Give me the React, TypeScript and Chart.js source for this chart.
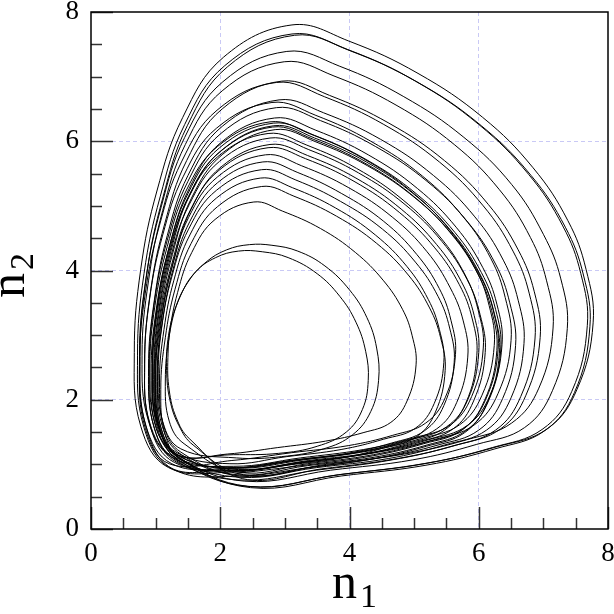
import React, { useEffect, useRef } from 'react';
import { Chart, registerables } from 'chart.js';

Chart.register(...registerables);

// Axis tick labels (major ticks every 2, minor every 0.5)
const xTickLabels = [0, 2, 4, 6, 8];
const yTickLabels = [0, 2, 4, 6, 8];
const minorStep = 0.5;

// Trajectory, traced loop by loop (counter-clockwise)
const loop01 = { n1: [2.26, 3.33, 4.35, 5.15, 5.74, 6.09, 6.28, 6.20, 5.99, 5.58, 4.99, 4.24, 3.44, 2.81, 2.00, 1.51, 1.22, 1.03, 0.95, 1.03, 1.35], n2: [0.86, 0.99, 1.13, 1.32, 1.53, 1.99, 2.76, 3.38, 3.94, 4.56, 5.15, 5.66, 6.03, 6.22, 5.84, 5.15, 4.29, 3.38, 2.41, 1.56, 1.07] };
const loop02 = { n1: [2.42, 3.84, 5.20, 6.27, 7.06, 7.52, 7.77, 7.66, 7.38, 6.84, 6.06, 5.06, 3.99, 3.11, 2.05, 1.42, 1.02, 0.77, 0.67, 0.77, 1.20], n2: [0.66, 0.84, 1.02, 1.27, 1.55, 2.16, 3.19, 4.02, 4.77, 5.59, 6.37, 7.05, 7.55, 7.80, 7.30, 6.37, 5.23, 4.02, 2.73, 1.59, 0.95] };
const loop03 = { n1: [2.17, 3.05, 3.89, 4.55, 5.04, 5.33, 5.48, 5.41, 5.24, 4.91, 4.42, 3.80, 3.14, 2.64, 1.96, 1.55, 1.30, 1.15, 1.08, 1.15, 1.41], n2: [0.88, 0.99, 1.10, 1.26, 1.43, 1.81, 2.45, 2.96, 3.42, 3.93, 4.42, 4.84, 5.15, 5.30, 4.99, 4.42, 3.71, 2.96, 2.16, 1.45, 1.06] };
const loop04 = { n1: [2.32, 3.49, 4.60, 5.47, 6.12, 6.50, 6.70, 6.61, 6.38, 5.94, 5.30, 4.48, 3.60, 2.91, 2.03, 1.50, 1.18, 0.98, 0.89, 0.98, 1.33], n2: [0.80, 0.95, 1.09, 1.30, 1.53, 2.03, 2.87, 3.54, 4.16, 4.83, 5.47, 6.03, 6.44, 6.64, 6.23, 5.47, 4.54, 3.54, 2.49, 1.56, 1.03] };
const loop05 = { n1: [2.22, 3.22, 4.17, 4.92, 5.47, 5.80, 5.97, 5.90, 5.70, 5.32, 4.77, 4.07, 3.32, 2.74, 1.98, 1.52, 1.25, 1.07, 1.00, 1.07, 1.37], n2: [0.90, 1.03, 1.15, 1.33, 1.53, 1.95, 2.68, 3.25, 3.78, 4.35, 4.90, 5.38, 5.73, 5.90, 5.55, 4.90, 4.10, 3.25, 2.35, 1.55, 1.10] };
const loop06 = { n1: [2.38, 3.71, 4.98, 5.97, 6.71, 7.14, 7.37, 7.27, 7.00, 6.51, 5.77, 4.84, 3.85, 3.03, 2.04, 1.45, 1.09, 0.85, 0.75, 0.85, 1.25], n2: [0.74, 0.91, 1.07, 1.31, 1.57, 2.14, 3.10, 3.87, 4.56, 5.33, 6.06, 6.69, 7.16, 7.39, 6.92, 6.06, 5.00, 3.87, 2.67, 1.60, 1.01] };
const loop07 = { n1: [2.16, 3.08, 3.96, 4.65, 5.16, 5.46, 5.62, 5.55, 5.37, 5.02, 4.51, 3.86, 3.17, 2.64, 1.94, 1.51, 1.25, 1.09, 1.02, 1.09, 1.37], n2: [0.94, 1.06, 1.17, 1.33, 1.52, 1.91, 2.58, 3.11, 3.60, 4.13, 4.64, 5.07, 5.40, 5.56, 5.24, 4.64, 3.90, 3.11, 2.28, 1.54, 1.12] };
const loop08 = { n1: [2.22, 3.29, 4.31, 5.11, 5.70, 6.05, 6.24, 6.16, 5.95, 5.54, 4.95, 4.20, 3.40, 2.77, 1.96, 1.47, 1.18, 0.99, 0.91, 0.99, 1.31], n2: [0.94, 1.07, 1.21, 1.40, 1.61, 2.07, 2.84, 3.46, 4.02, 4.64, 5.23, 5.74, 6.11, 6.30, 5.92, 5.23, 4.37, 3.46, 2.49, 1.64, 1.15] };
const loop09 = { n1: [2.20, 2.90, 3.50, 3.95, 4.20, 4.29, 4.25, 4.10, 3.85, 3.50, 3.05, 2.65, 2.28, 1.93, 1.62, 1.39, 1.24, 1.19, 1.21, 1.32, 1.52], n2: [1.15, 1.17, 1.28, 1.50, 1.85, 2.30, 2.75, 3.20, 3.60, 3.95, 4.20, 4.29, 4.30, 4.20, 3.98, 3.62, 3.15, 2.65, 2.15, 1.72, 1.40] };
const loop10 = { n1: [2.34, 3.57, 4.74, 5.66, 6.34, 6.73, 6.95, 6.86, 6.61, 6.15, 5.47, 4.61, 3.69, 2.95, 2.03, 1.48, 1.14, 0.92, 0.83, 0.92, 1.29], n2: [0.78, 0.93, 1.09, 1.30, 1.55, 2.07, 2.96, 3.67, 4.32, 5.02, 5.70, 6.28, 6.71, 6.93, 6.50, 5.70, 4.72, 3.67, 2.56, 1.58, 1.03] };
const loop11 = { n1: [2.24, 3.27, 4.25, 5.02, 5.59, 5.92, 6.10, 6.02, 5.82, 5.43, 4.86, 4.14, 3.37, 2.77, 1.99, 1.52, 1.23, 1.05, 0.98, 1.05, 1.36], n2: [0.90, 1.03, 1.16, 1.34, 1.54, 1.98, 2.73, 3.32, 3.86, 4.45, 5.02, 5.51, 5.87, 6.05, 5.69, 5.02, 4.20, 3.32, 2.39, 1.57, 1.11] };
const loop12 = { n1: [2.43, 3.83, 5.16, 6.21, 6.98, 7.44, 7.68, 7.58, 7.30, 6.77, 6.00, 5.02, 3.97, 3.11, 2.07, 1.45, 1.07, 0.82, 0.72, 0.82, 1.24], n2: [0.66, 0.84, 1.01, 1.26, 1.54, 2.13, 3.15, 3.95, 4.69, 5.49, 6.26, 6.93, 7.42, 7.66, 7.17, 6.26, 5.14, 3.95, 2.69, 1.57, 0.94] };
const loop13 = { n1: [2.19, 3.16, 4.08, 4.81, 5.35, 5.66, 5.83, 5.76, 5.56, 5.20, 4.67, 3.99, 3.26, 2.70, 1.96, 1.51, 1.25, 1.08, 1.00, 1.08, 1.37], n2: [0.94, 1.06, 1.18, 1.35, 1.55, 1.96, 2.66, 3.22, 3.73, 4.29, 4.82, 5.28, 5.62, 5.79, 5.45, 4.82, 4.04, 3.22, 2.35, 1.57, 1.13] };
const loop14 = { n1: [2.28, 3.37, 4.40, 5.22, 5.82, 6.17, 6.36, 6.28, 6.06, 5.65, 5.05, 4.29, 3.48, 2.84, 2.01, 1.52, 1.22, 1.03, 0.95, 1.03, 1.36], n2: [0.92, 1.06, 1.19, 1.38, 1.60, 2.06, 2.85, 3.48, 4.05, 4.67, 5.27, 5.79, 6.17, 6.36, 5.98, 5.27, 4.40, 3.48, 2.50, 1.63, 1.14] };
const loop15 = { n1: [2.11, 2.89, 3.63, 4.21, 4.64, 4.89, 5.03, 4.97, 4.82, 4.52, 4.09, 3.55, 2.96, 2.52, 1.92, 1.56, 1.34, 1.21, 1.15, 1.21, 1.44], n2: [1.16, 1.26, 1.36, 1.49, 1.65, 1.98, 2.54, 2.99, 3.40, 3.85, 4.28, 4.65, 4.92, 5.06, 4.79, 4.28, 3.66, 2.99, 2.29, 1.67, 1.32] };
const loop16 = { n1: [2.36, 3.64, 4.85, 5.81, 6.51, 6.93, 7.15, 7.05, 6.80, 6.32, 5.62, 4.72, 3.76, 2.99, 2.03, 1.46, 1.11, 0.89, 0.79, 0.89, 1.27], n2: [0.84, 1.00, 1.16, 1.38, 1.64, 2.18, 3.11, 3.84, 4.51, 5.25, 5.95, 6.56, 7.01, 7.23, 6.78, 5.95, 4.93, 3.84, 2.69, 1.67, 1.10] };
const loop17 = { n1: [2.21, 3.24, 4.22, 4.99, 5.56, 5.89, 6.07, 5.99, 5.79, 5.40, 4.83, 4.11, 3.34, 2.74, 1.96, 1.49, 1.20, 1.02, 0.95, 1.02, 1.33], n2: [0.97, 1.10, 1.23, 1.41, 1.61, 2.05, 2.80, 3.39, 3.93, 4.52, 5.09, 5.58, 5.94, 6.12, 5.76, 5.09, 4.27, 3.39, 2.46, 1.64, 1.18] };
const loop18 = { n1: [2.15, 3.03, 3.87, 4.53, 5.02, 5.31, 5.46, 5.39, 5.22, 4.89, 4.40, 3.78, 3.12, 2.62, 1.94, 1.53, 1.28, 1.13, 1.06, 1.13, 1.39], n2: [1.01, 1.12, 1.23, 1.39, 1.56, 1.94, 2.58, 3.09, 3.55, 4.06, 4.55, 4.97, 5.28, 5.43, 5.12, 4.55, 3.84, 3.09, 2.29, 1.58, 1.19] };
const loop19 = { n1: [2.30, 3.44, 4.52, 5.37, 6.00, 6.37, 6.57, 6.48, 6.26, 5.83, 5.20, 4.40, 3.55, 2.87, 2.01, 1.50, 1.18, 0.98, 0.90, 0.98, 1.33], n2: [0.82, 0.96, 1.11, 1.30, 1.53, 2.02, 2.84, 3.50, 4.10, 4.75, 5.38, 5.92, 6.32, 6.52, 6.12, 5.38, 4.47, 3.50, 2.47, 1.56, 1.05] };
const loop20 = { n1: [2.26, 3.49, 4.66, 5.58, 6.26, 6.65, 6.87, 6.78, 6.53, 6.07, 5.39, 4.53, 3.61, 2.87, 1.95, 1.40, 1.06, 0.84, 0.75, 0.84, 1.21], n2: [0.76, 0.91, 1.07, 1.28, 1.53, 2.05, 2.94, 3.65, 4.30, 5.00, 5.68, 6.26, 6.69, 6.91, 6.48, 5.68, 4.70, 3.65, 2.54, 1.56, 1.01] };
const loop21 = { n1: [2.18, 3.10, 3.98, 4.67, 5.18, 5.48, 5.64, 5.57, 5.39, 5.04, 4.53, 3.88, 3.19, 2.66, 1.96, 1.53, 1.27, 1.11, 1.04, 1.11, 1.39], n2: [1.06, 1.18, 1.29, 1.45, 1.64, 2.03, 2.70, 3.23, 3.72, 4.25, 4.76, 5.19, 5.52, 5.68, 5.36, 4.76, 4.02, 3.23, 2.40, 1.66, 1.24] };
const loop22 = { n1: [2.25, 2.95, 3.60, 4.05, 4.33, 4.45, 4.42, 4.27, 4.00, 3.62, 3.20, 2.80, 2.45, 2.10, 1.78, 1.50, 1.30, 1.19, 1.17, 1.22, 1.36, 1.58], n2: [1.10, 1.12, 1.24, 1.46, 1.82, 2.30, 2.80, 3.27, 3.70, 4.07, 4.30, 4.39, 4.40, 4.32, 4.13, 3.82, 3.40, 2.93, 2.45, 2.00, 1.60, 1.30] };
const loop23 = { n1: [2.28, 3.35, 4.37, 5.17, 5.76, 6.11, 6.30, 6.22, 6.01, 5.60, 5.01, 4.26, 3.46, 2.83, 2.02, 1.53, 1.24, 1.05, 0.97, 1.05, 1.37], n2: [0.88, 1.01, 1.15, 1.34, 1.55, 2.01, 2.78, 3.40, 3.96, 4.58, 5.17, 5.68, 6.05, 6.24, 5.86, 5.17, 4.31, 3.40, 2.43, 1.58, 1.09] };
const loop24 = { n1: [2.47, 3.87, 5.20, 6.25, 7.02, 7.48, 7.72, 7.62, 7.34, 6.81, 6.04, 5.06, 4.01, 3.15, 2.11, 1.49, 1.11, 0.86, 0.76, 0.86, 1.28], n2: [0.64, 0.82, 0.99, 1.24, 1.52, 2.11, 3.13, 3.93, 4.67, 5.47, 6.24, 6.91, 7.40, 7.64, 7.15, 6.24, 5.12, 3.93, 2.67, 1.55, 0.92] };
const loop25 = { n1: [2.30, 3.37, 4.39, 5.19, 5.78, 6.13, 6.32, 6.24, 6.03, 5.62, 5.03, 4.28, 3.48, 2.85, 2.04, 1.55, 1.26, 1.07, 0.99, 1.07, 1.39], n2: [0.82, 0.95, 1.09, 1.28, 1.49, 1.95, 2.72, 3.34, 3.90, 4.52, 5.11, 5.62, 5.99, 6.18, 5.80, 5.11, 4.25, 3.34, 2.37, 1.52, 1.03] };
const loop26 = { n1: [2.23, 3.37, 4.45, 5.30, 5.93, 6.30, 6.50, 6.41, 6.19, 5.76, 5.13, 4.33, 3.48, 2.80, 1.94, 1.43, 1.11, 0.91, 0.83, 0.91, 1.26], n2: [0.90, 1.04, 1.19, 1.38, 1.61, 2.10, 2.92, 3.58, 4.18, 4.83, 5.46, 6.00, 6.40, 6.60, 6.20, 5.46, 4.55, 3.58, 2.55, 1.64, 1.13] };
const loop27 = { n1: [2.25, 3.25, 4.20, 4.95, 5.50, 5.83, 6.00, 5.93, 5.73, 5.35, 4.80, 4.10, 3.35, 2.77, 2.01, 1.55, 1.28, 1.10, 1.03, 1.10, 1.40], n2: [0.95, 1.08, 1.20, 1.38, 1.58, 2.00, 2.73, 3.30, 3.83, 4.40, 4.95, 5.43, 5.78, 5.95, 5.60, 4.95, 4.15, 3.30, 2.40, 1.60, 1.15] };
const loop28 = { n1: [2.26, 3.35, 4.38, 5.20, 5.80, 6.15, 6.34, 6.26, 6.04, 5.63, 5.03, 4.27, 3.46, 2.82, 1.99, 1.50, 1.20, 1.01, 0.93, 1.01, 1.34], n2: [0.84, 0.98, 1.11, 1.30, 1.52, 1.98, 2.77, 3.40, 3.97, 4.59, 5.19, 5.71, 6.09, 6.28, 5.90, 5.19, 4.32, 3.40, 2.42, 1.55, 1.06] };

const loops = [
  loop01, loop02, loop03, loop04, loop05, loop06, loop07, loop08, loop09, loop10,
  loop11, loop12, loop13, loop14, loop15, loop16, loop17, loop18, loop19, loop20,
  loop21, loop22, loop23, loop24, loop25, loop26, loop27, loop28,
];

const SERIF = '"Liberation Serif", "Times New Roman", serif';

const decorPlugin = {
  id: 'decor',
  afterDraw(chart: any) {
    const { ctx, chartArea: a, scales } = chart;
    const xs = scales.x;
    const ys = scales.y;
    ctx.save();
    // inward tick marks
    ctx.strokeStyle = '#333';
    ctx.lineWidth = 1.5;
    for (let v = 0; v <= 8 + 1e-9; v += minorStep) {
      const px = Math.round(xs.getPixelForValue(v)) + 0.5;
      ctx.beginPath();
      ctx.moveTo(px, a.bottom);
      ctx.lineTo(px, a.bottom - (xTickLabels.includes(v) ? 22 : 11));
      ctx.stroke();
      const py = Math.round(ys.getPixelForValue(v)) + 0.5;
      ctx.beginPath();
      ctx.moveTo(a.left, py);
      ctx.lineTo(a.left + (yTickLabels.includes(v) ? 22 : 11), py);
      ctx.stroke();
    }
    // frame
    ctx.strokeStyle = '#000';
    ctx.lineWidth = 1.5;
    ctx.strokeRect(a.left, a.top, a.right - a.left, a.bottom - a.top);
    // axis titles
    ctx.fillStyle = '#000';
    ctx.textAlign = 'left';
    ctx.textBaseline = 'alphabetic';
    ctx.font = `50px ${SERIF}`;
    ctx.fillText('n', 332, 598);
    ctx.font = `34px ${SERIF}`;
    ctx.fillText('1', 360, 607);
    ctx.translate(24, 298);
    ctx.rotate(-Math.PI / 2);
    ctx.font = `50px ${SERIF}`;
    ctx.fillText('n', 0, 0);
    ctx.font = `34px ${SERIF}`;
    ctx.fillText('2', 28, 9);
    ctx.restore();
  },
};

export default function App() {
  const ref = useRef<HTMLCanvasElement | null>(null);
  useEffect(() => {
    if (!ref.current) return;
    const data = loops.flatMap((l) => l.n1.map((x, i) => ({ x, y: l.n2[i] })));
    const tickCb = (v: any) => (xTickLabels.includes(Number(v)) ? String(v) : '');
    const gridColor = (c: any) => {
      const v = c.tick ? c.tick.value : -1;
      return v > 0 && v < 8 && v % 2 === 0 ? '#c9c9f5' : 'rgba(0,0,0,0)';
    };
    const chart = new Chart(ref.current, {
      type: 'scatter',
      data: {
        datasets: [
          {
            data,
            showLine: true,
            borderColor: '#000',
            borderWidth: 1,
            pointRadius: 0,
            tension: 0.4,
            fill: false,
          },
        ],
      },
      options: {
        animation: false,
        responsive: false,
        devicePixelRatio: 1,
        layout: { padding: { top: 12, right: 6, left: 0, bottom: 0 } },
        plugins: { legend: { display: false }, tooltip: { enabled: false } },
        scales: {
          x: {
            type: 'linear',
            min: 0,
            max: 8,
            ticks: {
              stepSize: minorStep,
              autoSkip: false,
              maxRotation: 0,
              padding: 9,
              color: '#000',
              font: { family: SERIF, size: 27 },
              callback: tickCb,
            },
            grid: { color: gridColor, drawTicks: false, lineWidth: 1 },
            border: { display: false, dash: [4, 3] },
            afterFit: (s: any) => {
              s.height = 85;
              s.paddingLeft = 0;
              s.paddingRight = 0;
            },
          },
          y: {
            type: 'linear',
            min: 0,
            max: 8,
            ticks: {
              stepSize: minorStep,
              autoSkip: false,
              padding: 12,
              color: '#000',
              font: { family: SERIF, size: 27 },
              callback: tickCb,
            },
            grid: { color: gridColor, drawTicks: false, lineWidth: 1 },
            border: { display: false, dash: [4, 3] },
            afterFit: (s: any) => {
              s.width = 91;
              s.paddingTop = 0;
              s.paddingBottom = 0;
            },
          },
        },
      },
      plugins: [decorPlugin],
    });
    return () => chart.destroy();
  }, []);
  return (
    <div style={{ position: 'fixed', left: 0, top: 0, width: 614, height: 614, background: '#fff' }}>
      <canvas ref={ref} width={614} height={614} style={{ width: 614, height: 614 }} />
    </div>
  );
}
